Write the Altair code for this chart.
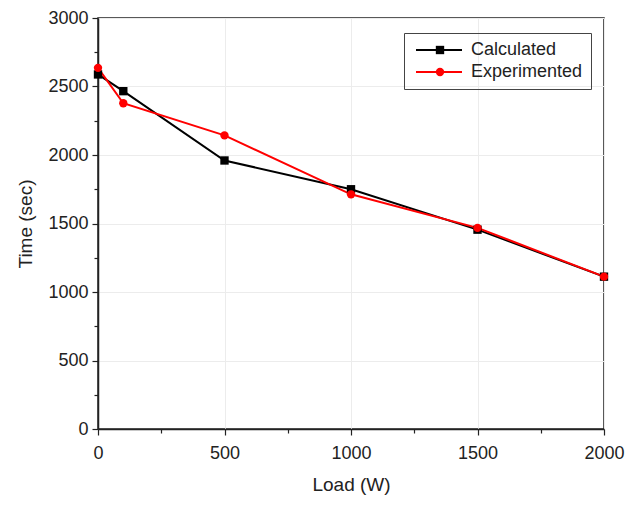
import altair as alt
import pandas as pd

load = [0, 100, 500, 1000, 1500, 2000]
calculated = [2588, 2466, 1960, 1750, 1455, 1112]
experimented = [2636, 2378, 2143, 1713, 1468, 1112]
series_names = ["Calculated", "Experimented"]
series_colors = ["#000000", "#ff0000"]
series_shapes = ["square", "circle"]
x_ticks = [0, 250, 500, 750, 1000, 1250, 1500, 1750, 2000]
y_ticks = [0, 250, 500, 750, 1000, 1250, 1500, 1750, 2000, 2250, 2500, 2750, 3000]

rows = []
for name, vals in zip(series_names, [calculated, experimented]):
    for xv, yv in zip(load, vals):
        rows.append({"Load": xv, "Time": yv, "Series": name, "SeriesLine": name})
df = pd.DataFrame(rows)

FONT = "Liberation Sans"
LX, LY = 306, 15

line_legend = alt.Legend(
    title=None, orient="none", legendX=LX, legendY=LY,
    symbolType="M-1,0H8.2", symbolSize=100, symbolStrokeWidth=2,
    symbolFillColor="transparent", labelOffset=41,
    labelFont=FONT, labelFontSize=18, labelColor="#222",
    strokeColor="#444", padding=8, rowPadding=4, zindex=1,
)
point_legend = alt.Legend(
    title=None, orient="none", legendX=LX + 19, legendY=LY,
    symbolSize=70, symbolStrokeWidth=0, symbolOpacity=1,
    labelFont=FONT, labelFontSize=18, labelExpr="''",
    padding=8, rowPadding=4, zindex=2,
)

xax = alt.Axis(
    values=x_ticks, title="Load (W)", format="d",
    labelExpr="datum.value % 500 === 0 ? datum.label : ''",
    tickSize={"condition": {"test": "datum.value % 500 === 0", "value": 6}, "value": 4},
    gridColor={"condition": {"test": "datum.value % 500 === 0", "value": "#ececec"}, "value": "transparent"},
    labelFlush=False, labelPadding=9, titlePadding=13,
)
yax = alt.Axis(
    values=y_ticks, title="Time (sec)", format="d",
    labelExpr="datum.value % 500 === 0 ? datum.label : ''",
    tickSize={"condition": {"test": "datum.value % 500 === 0", "value": 6}, "value": 4},
    gridColor={"condition": {"test": "datum.value % 500 === 0", "value": "#ececec"}, "value": "transparent"},
    labelFlush=False, labelPadding=4, titlePadding=12,
)

x = alt.X("Load:Q", scale=alt.Scale(domain=[0, 2000], nice=False), axis=xax)
y = alt.Y("Time:Q", scale=alt.Scale(domain=[0, 3000], nice=False), axis=yax)

lines = alt.Chart(df).mark_line(strokeWidth=2).encode(
    x=x, y=y,
    stroke=alt.Stroke("SeriesLine:N", scale=alt.Scale(range=series_colors), legend=line_legend),
    detail="Series:N",
)
points = alt.Chart(df).mark_point(filled=True, size=70, opacity=1).encode(
    x=x, y=y,
    color=alt.Color("Series:N", scale=alt.Scale(domain=series_names, range=series_colors), legend=point_legend),
    shape=alt.Shape("Series:N", scale=alt.Scale(domain=series_names, range=series_shapes), legend=point_legend),
)

chart = alt.layer(lines, points).properties(
    width=506, height=411,
    autosize=alt.AutoSizeParams(type="none"),
    padding={"left": 90, "top": 10, "right": 22, "bottom": 69},
).configure_view(stroke="#222", strokeWidth=1.5).configure_axis(
    labelFont=FONT, labelFontSize=18, labelColor="#222",
    titleFont=FONT, titleFontSize=19, titleFontWeight="normal", titleColor="#222",
    domainColor="#222", domainWidth=1.5, tickColor="#222", tickWidth=1.2,
)

chart.save("out.html", embed_options={"renderer": "svg", "actions": False})
